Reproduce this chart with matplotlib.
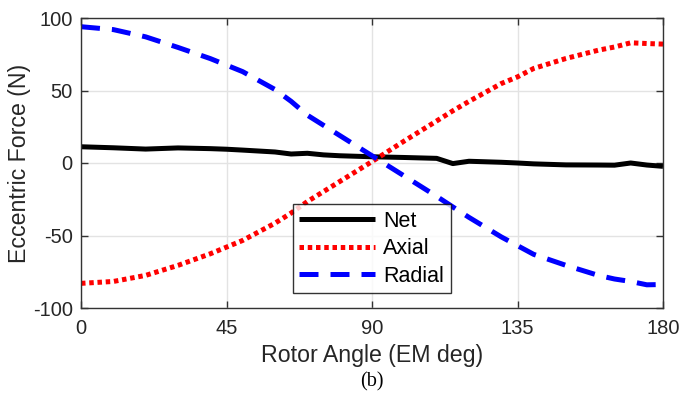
import numpy as np
import matplotlib.pyplot as plt

# rotor angle samples (EM deg)
angle = [0, 10, 20, 30, 40, 45, 50, 60, 65, 70, 75, 80, 90, 100, 110, 115, 120,
         130, 135, 140, 150, 160, 165, 170, 175, 180]

net = [11.2, 10.5, 9.6, 10.4, 9.9, 9.5, 8.9, 7.6, 6.2, 6.7, 5.6, 5.0, 4.3, 3.8, 3.2,
       -0.4, 1.2, 0.5, 0.0, -0.6, -1.3, -1.4, -1.5, 0.0, -1.4, -2.3]
axial = [-83.0, -81.7, -77.5, -70.6, -62.6, -58.0, -53.4, -41.5, -34.5, -26.6, -19.7,
         -12.8, 1.0, 15.2, 29.0, 36.0, 42.5, 54.8, 59.4, 65.2, 72.1, 77.8, 80.0, 82.9,
         82.4, 82.0]
radial = [94.0, 92.0, 87.0, 79.7, 72.0, 67.5, 63.0, 50.7, 42.5, 33.0, 26.0, 19.0,
          5.0, -9.0, -23.0, -30.3, -37.5, -51.0, -57.0, -63.0, -70.6, -77.5, -80.0,
          -81.7, -84.0, -83.8]

xticks = [0, 45, 90, 135, 180]
yticks = [-100, -50, 0, 50, 100]

plt.rcParams['font.family'] = ['Liberation Sans', 'DejaVu Sans']
plt.rcParams['axes.unicode_minus'] = False

fig = plt.figure(figsize=(6.79, 3.97), dpi=100)
ax = fig.add_axes([81 / 679, 1 - 308 / 397, 582 / 679, 290 / 397])

ax.plot(angle, net, color='black', lw=3.6, label='Net', solid_capstyle='butt')
ax.plot(angle, axial, color='red', lw=3.6, ls=(0, (0.9, 0.75)), label='Axial')
ax.plot(angle, radial, color='blue', lw=3.6, ls=(0, (3.8, 2.4)), label='Radial')

ax.set_xlim(0, 180)
ax.set_ylim(-100, 100)
ax.set_xticks(xticks)
ax.set_yticks(yticks)
ax.grid(True, color='#e3e3e3', lw=1.0)
ax.set_axisbelow(True)
ax.tick_params(direction='in', top=True, right=True, length=5, width=1,
               color='#333333', labelsize=14.5, labelcolor='#262626')
ax.tick_params(axis='x', pad=8)
ax.tick_params(axis='y', pad=6)
for s in ax.spines.values():
    s.set_color('#333333')
    s.set_linewidth(1.0)

ax.set_xlabel('Rotor Angle (EM deg)', fontsize=16.7, color='#262626', labelpad=4)
ax.set_ylabel('Eccentric Force (N)', fontsize=16.7, color='#262626', labelpad=1)

leg = ax.legend(loc='lower left', bbox_to_anchor=(212 / 582, 15 / 290), fontsize=15.5,
                frameon=True, fancybox=False, edgecolor='black', handlelength=3.5,
                handletextpad=0.4, borderpad=0.3, labelspacing=0.3, borderaxespad=0)
leg.get_frame().set_linewidth(1.0)

fig.text(372 / 679, 1 - 382 / 397, '(b)', ha='center', va='center', fontsize=14.5,
         family='Liberation Serif')

fig.savefig('out.png', dpi=100)
